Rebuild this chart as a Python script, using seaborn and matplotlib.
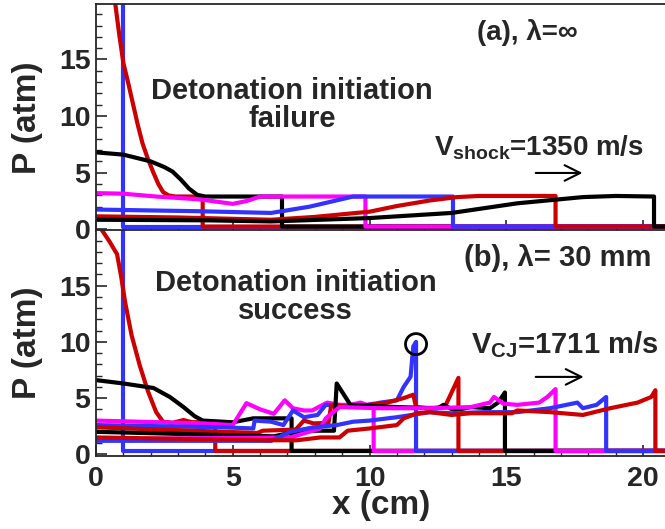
import matplotlib
matplotlib.use("Agg")
import matplotlib.pyplot as plt
from matplotlib.ticker import MultipleLocator
import numpy as np
import pandas as pd
import seaborn as sns

sns.set_style("ticks")
plt.rcParams["font.family"] = ["Liberation Sans", "DejaVu Sans"]
plt.rcParams["font.weight"] = "bold"
plt.rcParams["mathtext.fontset"] = "custom"
plt.rcParams["mathtext.rm"] = "Liberation Sans:bold"
plt.rcParams["mathtext.bf"] = "Liberation Sans:bold"
plt.rcParams["mathtext.it"] = "Liberation Sans:bold"

RED, BLUE, BLACK, MAGENTA = "#cc0000", "#3333ff", "#000000", "#ff00ff"

# ---------------- (a) lambda = infinity : failure ----------------
a_ambient = 0.25
a_blue1_x = [0.0, 1.0]
a_blue1_p = [40.0, 40.0]
a_red1_x = [0.0, 0.5, 0.7, 0.85, 1.0, 1.18, 1.36, 1.53, 1.7, 1.9, 2.1, 2.28, 2.45, 2.65, 2.9, 3.9]
a_red1_p = [40.0, 26.0, 20.0, 17.2, 14.7, 12.9, 11.0, 9.2, 7.6, 6.2, 5.0, 4.0, 3.3, 3.0, 2.9, 2.9]
a_black1_x = [0.0, 1.0, 2.0, 2.5, 2.8, 3.1, 3.4, 3.7, 4.0, 6.8]
a_black1_p = [6.8, 6.6, 6.0, 5.5, 5.1, 4.4, 3.6, 3.05, 2.9, 2.9]
a_mag1_x = [0.0, 1.0, 2.2, 3.8, 5.0, 5.5, 6.0, 9.85]
a_mag1_p = [3.2, 3.15, 2.9, 2.65, 2.25, 2.5, 2.9, 2.9]
a_blue2_x = [0.0, 3.8, 6.4, 7.8, 9.4, 13.05]
a_blue2_p = [1.75, 1.6, 1.45, 2.0, 2.9, 2.9]
a_red2_x = [0.0, 3.0, 6.4, 8.0, 10.0, 11.0, 12.2, 13.2, 14.0, 16.8]
a_red2_p = [1.15, 1.05, 0.85, 1.1, 1.56, 2.06, 2.55, 2.85, 2.95, 2.95]
a_black2_x = [0.0, 4.0, 6.4, 10.0, 13.0, 15.4, 17.8, 19.0, 20.4]
a_black2_p = [0.85, 0.8, 0.7, 1.0, 1.45, 2.3, 2.85, 2.95, 2.9]

# ---------------- (b) lambda = 30 mm : success ----------------
b_ambient = 0.3
b_blue1_x = [0.0, 1.0]
b_blue1_p = [40.0, 40.0]
b_red1_x = [0.0, 0.2, 0.5, 0.77, 0.92, 1.06, 1.3, 1.6, 1.9, 2.2, 2.45, 2.8, 3.2, 3.5, 4.36]
b_red1_p = [22.0, 20.0, 18.9, 17.8, 15.8, 13.6, 10.6, 7.9, 5.6, 3.75, 2.9, 2.8, 3.05, 2.85, 2.9]
b_black1_x = [0.0, 1.0, 2.1, 2.7, 3.2, 3.6, 3.9, 5.0, 5.75, 7.15]
b_black1_p = [6.6, 6.3, 5.9, 5.1, 4.2, 3.4, 3.0, 2.85, 3.2, 3.2]
b_mag1_x = [0.0, 3.9, 5.0, 5.5, 6.0, 6.5, 6.9, 7.2, 7.6, 7.9, 8.45, 8.9, 9.3, 9.67, 9.9, 10.15]
b_mag1_p = [3.0, 2.75, 2.6, 4.55, 4.0, 3.6, 4.8, 4.1, 3.9, 3.9, 4.6, 4.4, 4.4, 4.6, 4.4, 4.5]
b_blue2_x = [0.0, 4.65, 5.75, 5.8, 6.4, 6.85, 7.2, 7.6, 8.1, 8.4, 9.56, 10.4, 11.0, 11.25, 11.5, 11.6, 11.7]
b_blue2_p = [2.6, 2.4, 2.3, 3.0, 2.9, 2.6, 3.9, 3.3, 3.5, 4.4, 4.2, 4.6, 4.8, 6.0, 6.9, 9.6, 10.0]
b_red2_x = [0.0, 5.9, 6.1, 7.3, 7.6, 7.95, 8.5, 8.6, 9.3, 10.0, 10.65, 11.25, 11.6, 11.7, 12.1, 12.75, 13.25]
b_red2_p = [2.4, 1.9, 2.1, 2.2, 3.0, 2.75, 2.8, 4.4, 4.2, 4.4, 4.6, 5.0, 5.3, 4.2, 4.1, 4.2, 6.8]
b_black2_x = [0.0, 6.5, 7.1, 7.8, 8.7, 8.8, 9.3, 11.0, 12.5, 12.7, 13.1, 13.7, 14.4, 14.7, 14.95]
b_black2_p = [2.0, 1.6, 1.9, 2.1, 2.1, 6.3, 4.4, 4.2, 4.1, 4.4, 3.9, 4.2, 4.1, 4.6, 5.5]
b_mag2_x = [0.0, 7.1, 8.2, 8.4, 8.9, 10.4, 12.2, 13.7, 14.4, 14.55, 14.9, 15.4, 16.2, 16.5, 16.8]
b_mag2_p = [1.35, 1.5, 2.3, 3.2, 4.2, 4.1, 4.1, 4.2, 4.6, 5.1, 4.5, 4.4, 4.6, 5.1, 5.8]
b_blue3_x = [0.0, 6.4, 7.1, 7.95, 8.8, 9.4, 10.0, 11.0, 12.2, 13.0, 14.2, 15.4, 16.6, 17.6, 17.8, 18.3, 18.65]
b_blue3_p = [1.2, 1.2, 2.0, 2.4, 2.6, 2.9, 3.0, 3.3, 3.75, 3.65, 3.75, 3.75, 4.1, 4.6, 4.1, 4.4, 5.1]
b_red3_x = [0.0, 6.4, 7.35, 8.2, 8.9, 9.2, 10.0, 11.0, 11.25, 11.75, 12.2, 13.0, 13.7, 15.2, 15.4, 16.6,
            17.8, 18.8, 19.8, 20.3, 20.45]
b_red3_p = [1.5, 1.25, 1.25, 1.5, 1.5, 2.1, 2.3, 2.6, 3.2, 3.65, 3.75, 3.5, 3.65, 3.65, 3.9, 3.75,
            3.5, 4.1, 4.6, 5.1, 5.7]

# circled pressure peak of the blue profile in (b)
peak_x, peak_p = 11.7, 9.8

XMAX = 20.85
W, H = 665, 529


def profile(xs, ps, amb):
    """Profile behind the shock, then the jump to ambient ahead of it."""
    x = list(xs) + [xs[-1], 30.0]
    p = list(ps) + [amb, amb]
    return pd.DataFrame({"x": x, "P": p})


def draw(ax, series, amb):
    for xs, ps, col in series:
        sns.lineplot(data=profile(xs, ps, amb), x="x", y="P", sort=False,
                     estimator=None, color=col, lw=3.0, ax=ax,
                     solid_joinstyle="round", legend=False)


def style(ax, ylo, yhi, show_x):
    ax.set_xlim(0, XMAX)
    ax.set_ylim(ylo, yhi)
    ax.xaxis.set_major_locator(MultipleLocator(5))
    ax.xaxis.set_minor_locator(MultipleLocator(1))
    ax.yaxis.set_major_locator(MultipleLocator(5))
    ax.yaxis.set_minor_locator(MultipleLocator(1))
    ax.tick_params(which="both", direction="in", top=False, right=False,
                   labelsize=20.5)
    ax.tick_params(which="major", length=8, width=1.2)
    ax.tick_params(which="minor", length=4.5, width=1.0)
    ax.tick_params(axis="y", pad=4)
    ax.tick_params(axis="x", pad=7, labelbottom=show_x)
    for lab in ax.get_xticklabels() + ax.get_yticklabels():
        lab.set_fontweight("bold")
    for s in ("left", "bottom", "top"):
        ax.spines[s].set_linewidth(1.3)
    ax.spines["right"].set_visible(False)
    ax.set_ylabel("P (atm)", fontsize=24, fontweight="bold")
    ax.yaxis.set_label_coords(-0.093, 0.5)


fig = plt.figure(figsize=(W / 100, H / 100), dpi=100)
L = 96 / W
AW = 1.0 - L + 0.002
ax_a = fig.add_axes([L, 1 - 230.5 / H, AW, 226.5 / H])
ax_b = fig.add_axes([L, 1 - 456 / H, AW, 226 / H])

draw(ax_a, [(a_blue1_x, a_blue1_p, BLUE), (a_red1_x, a_red1_p, RED),
            (a_black1_x, a_black1_p, BLACK), (a_mag1_x, a_mag1_p, MAGENTA),
            (a_blue2_x, a_blue2_p, BLUE), (a_red2_x, a_red2_p, RED),
            (a_black2_x, a_black2_p, BLACK)], a_ambient)
draw(ax_b, [(b_blue1_x, b_blue1_p, BLUE), (b_red1_x, b_red1_p, RED),
            (b_black1_x, b_black1_p, BLACK), (b_mag1_x, b_mag1_p, MAGENTA),
            (b_blue2_x, b_blue2_p, BLUE), (b_red2_x, b_red2_p, RED),
            (b_black2_x, b_black2_p, BLACK), (b_mag2_x, b_mag2_p, MAGENTA),
            (b_blue3_x, b_blue3_p, BLUE), (b_red3_x, b_red3_p, RED)], b_ambient)

style(ax_a, -0.1, 19.9, False)
style(ax_b, -0.15, 19.95, True)
ax_a.set_xlabel("")
ax_b.set_xlabel("x (cm)", fontsize=24, fontweight="bold", va="center")
ax_b.xaxis.set_label_coords(0.5, -0.217)

# annotations, panel (a)
ax_a.text(0.756, 0.872, "(a), λ=∞", transform=ax_a.transAxes, ha="center",
          va="center", fontsize=20, fontweight="bold")
ax_a.text(0.344, 0.554, "Detonation initiation\nfailure", transform=ax_a.transAxes,
          ha="center", va="center", multialignment="center", fontsize=21,
          fontweight="bold", linespacing=1.0)
ax_a.text(0.592, 0.333, r"V$_{\mathrm{shock}}$=1350 m/s", transform=ax_a.transAxes,
          ha="left", va="baseline", fontsize=20, fontweight="bold")
ax_a.annotate("", xy=(0.853, 0.254), xytext=(0.771, 0.254),
              xycoords="axes fraction", textcoords="axes fraction",
              arrowprops=dict(arrowstyle="->", lw=1.5, mutation_scale=28,
                              color="black", shrinkA=0, shrinkB=0))

# annotations, panel (b)
ax_b.text(0.809, 0.876, "(b), λ= 30 mm", transform=ax_b.transAxes, ha="center",
          va="center", fontsize=21, fontweight="bold")
ax_b.text(0.35, 0.704, "Detonation initiation\nsuccess", transform=ax_b.transAxes,
          ha="center", va="center", multialignment="center", fontsize=21,
          fontweight="bold", linespacing=1.0)
ax_b.text(0.657, 0.456, r"V$_{\mathrm{CJ}}$=1711 m/s", transform=ax_b.transAxes,
          ha="left", va="baseline", fontsize=21, fontweight="bold")
ax_b.annotate("", xy=(0.855, 0.35), xytext=(0.771, 0.35),
              xycoords="axes fraction", textcoords="axes fraction",
              arrowprops=dict(arrowstyle="->", lw=1.5, mutation_scale=28,
                              color="black", shrinkA=0, shrinkB=0))
ax_b.scatter([peak_x], [peak_p], s=230, facecolors="none", edgecolors="black",
             linewidths=2.0, zorder=5)

fig.savefig("out.png", dpi=100)
